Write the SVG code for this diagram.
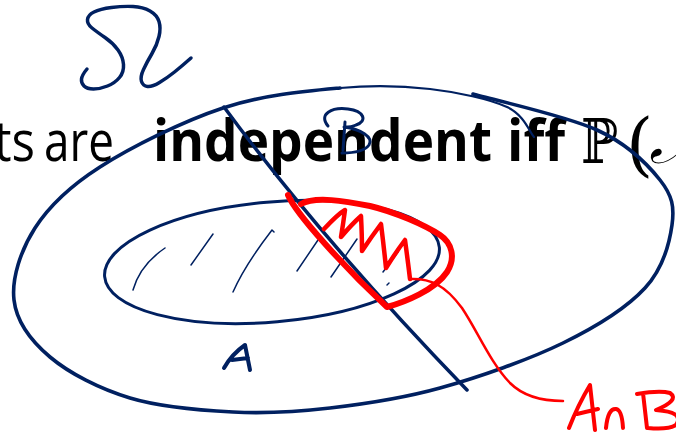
<svg xmlns="http://www.w3.org/2000/svg" width="676" height="433" viewBox="0 0 676 433">
<style>
.t{font-family:"Open Sans","Liberation Sans",sans-serif;font-size:57px;fill:#000}
.b{font-weight:bold}
.m{font-family:"DejaVu Serif","DejaVu Sans",serif;fill:#000}
.n{fill:none;stroke:#002060;stroke-linecap:round;stroke-linejoin:round}
.r{fill:none;stroke:#ff0000;stroke-linecap:round;stroke-linejoin:round}
</style>
<rect width="676" height="433" fill="#fff"/>
<g id="title">
<text class="t" x="-6" y="161" textLength="41" lengthAdjust="spacingAndGlyphs">ts</text>
<text class="t" x="44" y="161" textLength="70" lengthAdjust="spacingAndGlyphs">are</text>
<text class="t b" x="153" y="161" textLength="339" lengthAdjust="spacingAndGlyphs">independent</text>
<text class="t b" x="507" y="161" textLength="58" lengthAdjust="spacingAndGlyphs">iff</text>
<text class="m" x="581" y="163" font-size="62" textLength="37" lengthAdjust="spacingAndGlyphs">ℙ</text>
<text class="m" x="626" y="168" font-size="70">(</text>
<text class="m" x="649" y="163" font-size="68" font-style="italic">𝒜</text>
</g>
<g id="omega">
<path class="n" stroke-width="3.5" d="M87,69 Q82,75 81.5,79 Q81,83 84,86 Q87,89 93.5,89 Q100,89 107.5,86 Q115,83 119.5,77.5 Q124,72 123.5,64.5 Q123,57 118,50 Q113,43 105,37.5 Q97,32 92,28 Q87,24 87.5,19.5 Q88,15 94,12 Q100,9 111.5,7.5 Q123,6 133,6.5 Q143,7 150,11 Q157,15 159,21.5 Q161,28 159,36.5 Q157,45 152,53.5 Q147,62 143.5,69.5 Q140,77 141.5,81.5 Q143,86 147.5,86.5 Q152,87 159.5,82.5 Q167,78 174.5,72 Q182,66 191,58"/>
</g>
<g id="outer">
<path class="n" stroke-width="3.6" d="M473,94 C493.7,100 565.8,115.7 597,130 C628.2,144.3 647.5,164.2 660,180 C672.5,195.8 674.5,207 672,225 C669.5,243 663.2,268.3 645,288 C626.8,307.7 597.2,326.3 563,343 C528.8,359.7 478.8,377.2 440,388 C401.2,398.8 364.5,404 330,408 C295.5,412 266.3,413.7 233,412 C199.7,410.3 160.5,407.2 130,398 C99.5,388.8 69.3,373.3 50,357 C30.7,340.7 16.5,321.5 14,300 C11.5,278.5 20.7,250.2 35,228 C49.3,205.8 68.7,187 100,167 C131.3,147 183,121.2 223,108 C263,94.8 305.5,91.2 340,88"/>
<path class="n" stroke-width="2.2" d="M340,88 C374.5,84.8 402.2,85.8 430,89 C457.8,92.2 489.7,99 507,107 C524.3,115 529.5,132 534,137"/>
</g>
<g id="setA">
<ellipse class="n" stroke-width="3" cx="272" cy="262" rx="168" ry="60" transform="rotate(-5 272 262)"/>
<g class="n" stroke-width="1.5">
<path d="M133,290 Q140,265 165,248"/>
<path d="M191,265 L213,234"/>
<path d="M233,292 Q245,265 272,230 L274,232"/>
<path d="M297,271 L318,240"/>
<path d="M331,277 L357,239"/>
<path d="M383,272 L398,252"/>
<path d="M387,285 L389,283"/>
</g>
<path class="n" stroke-width="4" d="M224,368 Q232,354 245,345 L250,370 M232,360 L248,358"/>
</g>
<g id="setB">
<path class="n" stroke-width="3.5" d="M224,107 Q322,240 467,390"/>
<path class="n" stroke-width="3" d="M328,126 C318,114 332,107 348,109 C364,111 368,121 356,125 C352,127 346,127 344,127 C360,129 374,137 369,145 C364,152 350,153 342,153 M345,122 L343,150"/>
</g>
<g id="intersection">
<path class="r" stroke-width="6" d="M288,195 C296,214 345,268 387,307 C405,302 435,290 447,272 C456,258 452,243 440,235 C425,225 395,212 370,206 C345,201 315,196 301,204"/>
<path class="r" stroke-width="4.5" d="M324,229 Q338,214 345,210 Q343,225 341,237 Q352,224 361,216 Q362,236 362,251 Q372,236 381,224 Q384,248 386,268 Q396,252 405,240 Q408,262 410,279"/>
</g>
<g id="connectors">
<path class="r" stroke-width="2.5" d="M410,279 C430,278 445,285 462,308 C478,332 490,362 510,383 C525,398 545,401 563,401"/>
</g>
<g id="label">
<path class="r" stroke-width="4" d="M569,428 Q578,405 590,385 L595,430 M577,414 L598,409 M606,428 Q608,408 616,409 Q622,410 623,428 M637,394 Q660,390 670,393 Q680,400 656,410 Q685,412 676,425 Q668,430 648,428 M643,393 L647,428"/>
</g>
</svg>
